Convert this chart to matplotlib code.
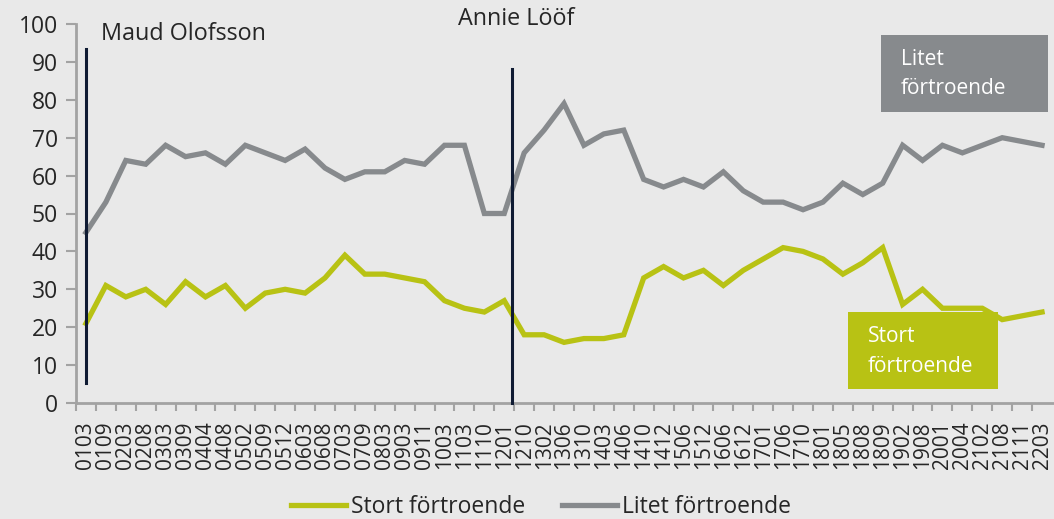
import matplotlib
matplotlib.use("Agg")
import matplotlib.pyplot as plt
from matplotlib.patches import Rectangle
from matplotlib.lines import Line2D

categories = ["0103", "0109", "0203", "0208", "0303", "0309", "0404", "0408", "0502", "0509",
              "0512", "0603", "0608", "0703", "0709", "0803", "0903", "0911", "1003", "1103",
              "1110", "1201", "1210", "1302", "1306", "1310", "1403", "1406", "1410", "1412",
              "1506", "1512", "1606", "1612", "1701", "1706", "1710", "1801", "1805", "1808",
              "1809", "1902", "1908", "2001", "2004", "2102", "2108", "2111", "2203"]

stort = [21, 31, 28, 30, 26, 32, 28, 31, 25, 29,
         30, 29, 33, 39, 34, 34, 33, 32, 27, 25,
         24, 27, 18, 18, 16, 17, 17, 18, 33, 36,
         33, 35, 31, 35, 38, 41, 40, 38, 34, 37,
         41, 26, 30, 25, 25, 25, 22, 23, 24]

litet = [45, 53, 64, 63, 68, 65, 66, 63, 68, 66,
         64, 67, 62, 59, 61, 61, 64, 63, 68, 68,
         50, 50, 66, 72, 79, 68, 71, 72, 59, 57,
         59, 57, 61, 56, 53, 53, 51, 53, 58, 55,
         58, 68, 64, 68, 66, 68, 70, 69, 68]

series_names = ["Stort förtroende", "Litet förtroende"]
leaders = ["Maud Olofsson", "Annie Lööf"]
leader_pos = [0, 21.4]
leader_span = [(5.3, 93.4), (0, 88.1)]
yticks = [0, 10, 20, 30, 40, 50, 60, 70, 80, 90, 100]

BG = "#e9e9e9"
GREEN = "#b8c214"
GRAY = "#878a8d"
NAVY = "#0f1b33"
TXT = "#262626"
AX = "#a3a3a3"

plt.rcParams["font.family"] = ["Open Sans", "DejaVu Sans"]

W, H = 1054, 519
fig = plt.figure(figsize=(W / 100, H / 100), dpi=100, facecolor=BG)
ax = fig.add_axes([76 / W, (H - 403) / H, (W - 76) / W, (403 - 24) / H])
ax.set_facecolor(BG)

x = list(range(len(categories)))
ax.plot(x, stort, color=GREEN, lw=3.8, solid_joinstyle="miter", zorder=3)
ax.plot(x, litet, color=GRAY, lw=3.8, solid_joinstyle="miter", zorder=3)

for xp, (y0, y1) in zip(leader_pos, leader_span):
    ax.plot([xp, xp], [y0, y1], color=NAVY, lw=2.2, zorder=4, clip_on=False)

ax.text(0.75, 97.4, leaders[0], fontsize=16.8, color=TXT, ha="left", va="center", clip_on=False)
ax.text(18.7, 101.2, leaders[1], fontsize=16.8, color=TXT, ha="left", va="center", clip_on=False)

ax.set_xlim(-0.5, 48.6)
ax.set_ylim(0, 100)
ax.set_xticks(x)
ax.set_xticklabels(categories, rotation=90, fontsize=15, color=TXT)
ax.set_xticks([i - 0.5 for i in range(len(categories))], minor=True)
ax.tick_params(axis="x", which="major", length=0, pad=13)
ax.tick_params(axis="x", which="minor", length=6, width=1.5, color=AX)
ax.set_yticks(yticks)
ax.tick_params(axis="y", which="major", length=7, width=1.5, color=AX, labelsize=16.5, labelcolor=TXT, pad=6)
for s in ["top", "right"]:
    ax.spines[s].set_visible(False)
for s in ["left", "bottom"]:
    ax.spines[s].set_color(AX)
    ax.spines[s].set_linewidth(2)
ax.spines["left"].set_bounds(0, 100)

# label boxes (figure pixel coords)
def box(x0, y0, x1, y1, color, lines, tx, ty1, ty2):
    fig.patches.append(Rectangle((x0 / W, 1 - y1 / H), (x1 - x0) / W, (y1 - y0) / H,
                                 transform=fig.transFigure, facecolor=color, edgecolor="none", zorder=5))
    fig.text(tx / W, 1 - ty1 / H, lines[0], color="white", fontsize=15, va="center", ha="left", zorder=6)
    fig.text(tx / W, 1 - ty2 / H, lines[1], color="white", fontsize=15, va="center", ha="left", zorder=6)

box(881, 35, 1048, 112, GRAY, ["Litet", "förtroende"], 901, 60, 89)
box(848, 312, 998, 389, GREEN, ["Stort", "förtroende"], 868, 337, 366)

handles = [Line2D([], [], color=GREEN, lw=3.8), Line2D([], [], color=GRAY, lw=3.8)]
fig.legend(handles, series_names, loc="center", bbox_to_anchor=(541 / W, 1 - 507 / H),
           ncol=2, frameon=False, fontsize=16.5, handlelength=2.4, handletextpad=0.2,
           columnspacing=1.6, labelcolor=TXT, borderaxespad=0, borderpad=0)

fig.savefig("out.png", dpi=100, facecolor=BG)
